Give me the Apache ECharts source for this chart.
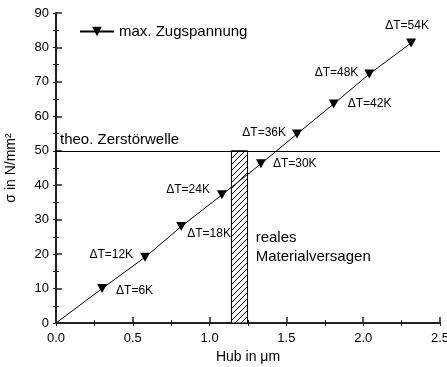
<!DOCTYPE html>
<html>
<head>
<meta charset="utf-8">
<script src="https://cdn.jsdelivr.net/npm/echarts@6/dist/echarts.min.js"></script>
<style>html,body{margin:0;padding:0;background:#fff}#c{width:447px;height:367px}</style>
</head>
<body>
<div id="c"></div>
<script>
// ---- data ----
var hub    = [0, 0.30, 0.58, 0.815, 1.08, 1.334, 1.569, 1.808, 2.04, 2.312];
var stress = [0, 10, 19.1, 28, 37.2, 46.2, 54.9, 63.6, 72.3, 81.3];
var dTLabels = ['', 'ΔT=6K', 'ΔT=12K', 'ΔT=18K', 'ΔT=24K', 'ΔT=30K', 'ΔT=36K', 'ΔT=42K', 'ΔT=48K', 'ΔT=54K'];
var theoLimit = 50;
var failureBand = [1.142, 1.247];
var failureTop = 50;
var failureText = 'reales\nMaterialversagen';
var failureTextAt = [1.30, 22];
var seriesName = 'max. Zugspannung';
var theoName = 'theo. Zerstörwelle';

// hatch pattern
var pc = document.createElement('canvas');
pc.width = 6; pc.height = 6;
var g = pc.getContext('2d');
g.fillStyle = '#fff'; g.fillRect(0,0,6,6);
g.strokeStyle = '#000'; g.lineWidth = 1;
g.beginPath();
g.moveTo(0,6); g.lineTo(6,0);
g.moveTo(-3,3); g.lineTo(3,-3);
g.moveTo(3,9); g.lineTo(9,3);
g.stroke();

var labelStyle = [
  {show:false},
  {position:'right', offset:[4,2]},
  {position:'left', offset:[-2,-3]},
  {position:'right', offset:[-4,7]},
  {position:'left', offset:[-2,-5]},
  {position:'right', offset:[2,0]},
  {position:'left', offset:[-1,-1]},
  {position:'right', offset:[4,0]},
  {position:'left', offset:[-1,-1]},
  {position:'top', offset:[-4,-2]}
];

var pts = hub.map(function(h,i){
  var d = {value:[h, stress[i]], label: Object.assign({show:true, formatter: dTLabels[i]}, labelStyle[i])};
  if (i === 0) { d.symbol = 'none'; }
  return d;
});

var font = 'Liberation Sans, Arial, sans-serif';
var chart = echarts.init(document.getElementById('c'));
chart.setOption({
  animation:false,
  textStyle:{fontFamily:font, color:'#000'},
  grid:{left:56, right:7, top:13, bottom:44, outerBoundsMode:'none', containLabel:false},
  legend:{
    left:74, top:19, itemWidth:34, itemHeight:12, itemGap:4,
    textStyle:{fontSize:15, color:'#000', fontFamily:font},
    data:[seriesName]
  },
  xAxis:[{
    type:'value', min:0, max:2.5, interval:0.5, position:'bottom',
    name:'Hub in μm', nameLocation:'middle', nameGap:21,
    nameTextStyle:{fontSize:14, color:'#000', fontFamily:font},
    axisLine:{lineStyle:{color:'#222', width:2}},
    axisTick:{inside:true, length:6, lineStyle:{color:'#222', width:1.5}},
    minorTick:{show:true, splitNumber:2, length:3, lineStyle:{color:'#222'}},
    axisLabel:{fontSize:13, color:'#000', margin:9, formatter:function(v){return v.toFixed(1);}},
    splitLine:{show:false}
  },{
    type:'value', min:0, max:2.5, interval:0.25, position:'top',
    axisLine:{show:true, lineStyle:{color:'#222', width:1}},
    axisTick:{show:true, inside:true, length:3, lineStyle:{color:'#222'}},
    axisLabel:{show:false}, splitLine:{show:false}
  }],
  yAxis:[{
    type:'value', min:0, max:90, interval:10, position:'left',
    name:'σ in N/mm²', nameLocation:'middle', nameGap:38, nameRotate:90,
    nameTextStyle:{fontSize:14, color:'#000', fontFamily:font},
    axisLine:{show:true, lineStyle:{color:'#222', width:2}},
    axisTick:{show:true, inside:true, length:6, lineStyle:{color:'#222', width:1.5}},
    minorTick:{show:true, splitNumber:2, length:3, lineStyle:{color:'#222'}},
    axisLabel:{fontSize:13, color:'#000', margin:7},
    splitLine:{show:false}
  },{
    type:'value', min:0, max:90, interval:5, position:'right',
    axisLine:{show:true, lineStyle:{color:'#222', width:1}},
    axisTick:{show:true, inside:true, length:3, lineStyle:{color:'#222'}},
    axisLabel:{show:false}, splitLine:{show:false}
  }],
  series:[{
    type:'custom', name:'band', xAxisIndex:0, yAxisIndex:0, silent:true, z:1,
    data:[[failureBand[0], failureBand[1], failureTop, failureTextAt[0], failureTextAt[1]]],
    renderItem:function(params, api){
      var p0 = api.coord([api.value(0), 0]);
      var p1 = api.coord([api.value(1), api.value(2)]);
      var t = api.coord([api.value(3), api.value(4)]);
      return {type:'group', children:[
        {type:'rect', shape:{x:p0[0], y:p1[1], width:p1[0]-p0[0], height:p0[1]-p1[1]},
         style:{fill:{image:pc, repeat:'repeat'}, stroke:'#000', lineWidth:1}},
        {type:'text', x:t[0], y:t[1],
         style:{text:failureText, fontSize:15, fontFamily:font, fill:'#000', lineHeight:19, verticalAlign:'middle', align:'left'}}
      ]};
    }
  },{
    type:'line', name:seriesName, xAxisIndex:0, yAxisIndex:0, z:3,
    data:pts,
    symbol:'triangle', symbolRotate:180, symbolSize:[10,9], showAllSymbol:true,
    itemStyle:{color:'#000'},
    lineStyle:{color:'#000', width:1},
    label:{fontSize:12, color:'#000', fontFamily:font},
    markLine:{
      silent:true, symbol:'none',
      lineStyle:{color:'#000', width:1, type:'solid'},
      label:{show:true, position:'insideStartTop', formatter:theoName, fontSize:15, color:'#000', fontFamily:font, distance:[4,3]},
      data:[{yAxis:theoLimit}]
    }
  }]
});
</script>
</body>
</html>
